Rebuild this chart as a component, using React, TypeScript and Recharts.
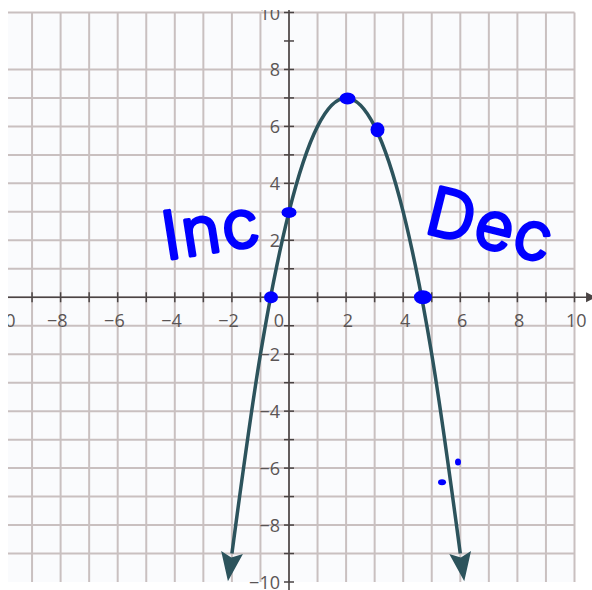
import React from 'react';
import {
  ComposedChart,
  XAxis,
  YAxis,
  CartesianGrid,
  Line,
  Scatter,
  ReferenceLine,
  ReferenceDot,
} from 'recharts';

// Grid spans -10..10 on both axes, one line per unit
const GRID_TICKS = [-10, -9, -8, -7, -6, -5, -4, -3, -2, -1, 0, 1, 2, 3, 4, 5, 6, 7, 8, 9, 10];

// Axis labels (every second unit)
const X_LABEL_VALUES = [-10, -8, -6, -4, -2, 0, 2, 4, 6, 8, 10];
const X_LABELS = ['−10', '−8', '−6', '−4', '−2', '0', '2', '4', '6', '8', '10'];
const Y_LABEL_VALUES = [-10, -8, -6, -4, -2, 2, 4, 6, 8, 10];
const Y_LABELS = ['−10', '−8', '−6', '−4', '−2', '2', '4', '6', '8', '10'];

// The parabola, sampled on the grid
const CURVE_X = [-2, -1, 0, 1, 2, 3, 4, 5, 6];
const CURVE_Y = [-9, -2, 3, 6, 7, 6, 3, -2, -9];

// Hand-marked points
const MARK_X = [2.05, 3.1, 0, -0.63, 4.69, 5.92, 5.36];
const MARK_Y = [6.98, 5.88, 2.98, 0, 0, -5.79, -6.5];

// Hand-written notes
const NOTE_X = [-2.73, 7.08];
const NOTE_Y = [2.42, 2.56];
const NOTE_TEXT = ['Inc', 'Dec'];

// Styling
const AXIS_COLOR = '#4a4444';
const GRID_COLOR = '#c9c0c0';
const LABEL_COLOR = '#5a5555';
const CURVE_COLOR = '#2c535c';
const INK = '#0000ff';
const MARK_RADII: [number, number][] = [
  [8, 6],
  [7, 7.5],
  [7.5, 5.5],
  [7, 6],
  [9, 7],
  [3, 3.5],
  [4, 3],
];
const NOTE_ROTATION = [-9, 14];

const curveData = CURVE_X.map((x, i) => ({ x, y: CURVE_Y[i] }));
const xTickData = GRID_TICKS.map((x) => {
  const k = X_LABEL_VALUES.indexOf(x);
  return { x, y: 0, label: k >= 0 ? X_LABELS[k] : '' };
});
const yTickData = GRID_TICKS.filter((v) => v !== 0).map((y) => {
  const k = Y_LABEL_VALUES.indexOf(y);
  return { x: 0, y, label: k >= 0 ? Y_LABELS[k] : '' };
});
const markData = MARK_X.map((x, i) => ({ x, y: MARK_Y[i], i }));
const noteData = NOTE_X.map((x, i) => ({ x, y: NOTE_Y[i], text: NOTE_TEXT[i], i }));

const labelFont = {
  fontFamily: '"Open Sans", "DejaVu Sans", sans-serif',
  fontSize: 18,
  fill: LABEL_COLOR,
};

const XTick = (p: any) => {
  const { cx, cy, payload } = p;
  const v = payload.x;
  const digits = String(Math.abs(v)).length;
  const tx = v === 0 ? cx - 5 : cx + 5 * digits + 2;
  return (
    <g>
      {v !== 0 && (
        <line x1={cx} x2={cx} y1={cy - 5} y2={cy + 5} stroke={AXIS_COLOR} strokeWidth={1.5} />
      )}
      {payload.label && (
        <text x={tx} y={cy + 23} textAnchor="end" dominantBaseline="central" {...labelFont}>
          {payload.label}
        </text>
      )}
    </g>
  );
};

const YTick = (p: any) => {
  const { cx, cy, payload } = p;
  return (
    <g>
      <line x1={cx - 5} x2={cx + 5} y1={cy} y2={cy} stroke={AXIS_COLOR} strokeWidth={1.5} />
      {payload.label && (
        <text x={cx - 9} y={cy} textAnchor="end" dominantBaseline="central" {...labelFont}>
          {payload.label}
        </text>
      )}
    </g>
  );
};

// Arrowheads at both ends of the parabola
const CurveEnd = (p: any) => {
  const { cx, cy, index } = p;
  const last = curveData.length - 1;
  if (index !== 0 && index !== last) return <g key={`d${index}`} />;
  const end = curveData[index];
  const nb = curveData[index === 0 ? 1 : last - 1];
  let dx = end.x - nb.x;
  let dy = -(end.y - nb.y);
  const len = Math.hypot(dx, dy);
  dx /= len;
  dy /= len;
  const nx = -dy;
  const ny = dx;
  const L = 28;
  const W = 11;
  const pts = [
    [cx + dx * L, cy + dy * L],
    [cx - nx * W - dx * 1, cy - ny * W - dy * 1],
    [cx + dx * 4, cy + dy * 4],
    [cx + nx * W - dx * 1, cy + ny * W - dy * 1],
  ]
    .map((q) => q.join(','))
    .join(' ');
  return <polygon key={`d${index}`} points={pts} fill={CURVE_COLOR} />;
};

const Mark = (p: any) => {
  const { cx, cy, payload } = p;
  const [rx, ry] = MARK_RADII[payload.i];
  return <ellipse cx={cx} cy={cy} rx={rx} ry={ry} fill={INK} />;
};

const Note = (p: any) => {
  const { cx, cy, payload } = p;
  return (
    <text
      x={cx}
      y={cy}
      textAnchor="middle"
      dominantBaseline="central"
      transform={`rotate(${NOTE_ROTATION[payload.i]} ${cx} ${cy})`}
      fontFamily="Inter, 'Noto Sans', sans-serif"
      fontWeight={300}
      fontSize={66}
      letterSpacing={2}
      fill={INK}
      stroke={INK}
      strokeWidth={3.5}
      strokeLinejoin="round"
      strokeLinecap="round"
    >
      {payload.text}
    </text>
  );
};

const XArrow = (p: any) => {
  const { cx, cy } = p;
  return (
    <polygon
      points={`${cx - 1},${cy - 5} ${cx + 9},${cy} ${cx - 1},${cy + 5}`}
      fill={AXIS_COLOR}
    />
  );
};

export default function App() {
  return (
    <div
      style={{
        position: 'fixed',
        left: 8,
        top: 10,
        width: 584,
        height: 580,
        overflow: 'hidden',
        background: '#ffffff',
      }}
    >
      <ComposedChart
        width={584}
        height={580}
        margin={{ top: 2.5, right: 17.5, bottom: 8, left: -4.5 }}
      >
        <CartesianGrid
          stroke={GRID_COLOR}
          strokeWidth={2}
          fill="#fafbfd"
          fillOpacity={1}
          horizontalValues={GRID_TICKS}
          verticalValues={GRID_TICKS}
        />
        <XAxis
          type="number"
          dataKey="x"
          domain={[-10, 10]}
          ticks={GRID_TICKS}
          hide
        />
        <YAxis
          type="number"
          dataKey="y"
          domain={[-10, 10]}
          ticks={GRID_TICKS}
          hide
        />
        <ReferenceLine
          segment={[
            { x: -10.5, y: 0 },
            { x: 10.44, y: 0 },
          ]}
          stroke={AXIS_COLOR}
          strokeWidth={1.6}
          ifOverflow="visible"
        />
        <ReferenceLine
          segment={[
            { x: 0, y: -10.5 },
            { x: 0, y: 10.5 },
          ]}
          stroke={AXIS_COLOR}
          strokeWidth={1.6}
          ifOverflow="visible"
        />
        <ReferenceDot x={10.44} y={0} ifOverflow="visible" shape={XArrow} />
        <Scatter data={xTickData} shape={XTick} isAnimationActive={false} />
        <Scatter data={yTickData} shape={YTick} isAnimationActive={false} />
        <Line
          data={curveData}
          dataKey="y"
          type="monotone"
          stroke={CURVE_COLOR}
          strokeWidth={3.5}
          dot={CurveEnd}
          activeDot={false}
          isAnimationActive={false}
        />
        <Scatter data={markData} shape={Mark} isAnimationActive={false} />
        <Scatter data={noteData} shape={Note} isAnimationActive={false} />
      </ComposedChart>
    </div>
  );
}
